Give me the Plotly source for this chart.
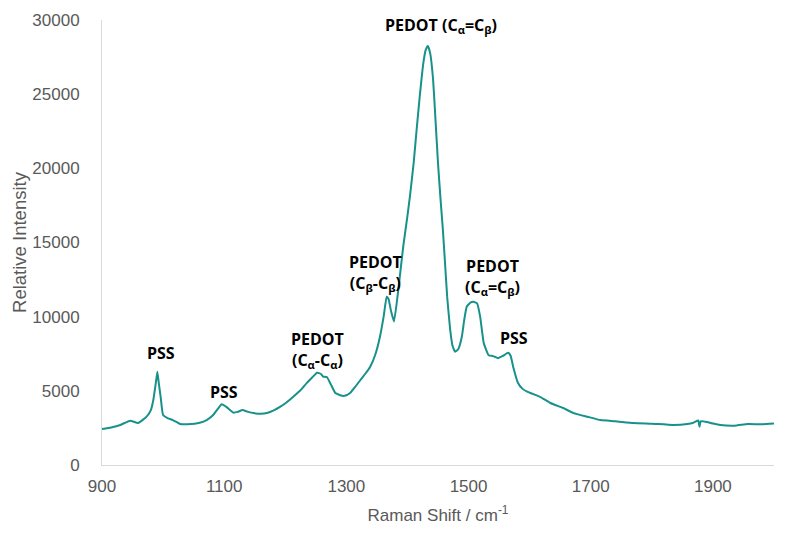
import plotly.graph_objects as go

# Raman spectrum
shift = [900, 915, 930, 946, 959, 973, 980, 984, 988, 990.6, 993, 996, 1000, 1008, 1016, 1028,
         1040, 1060, 1072, 1082, 1090, 1096, 1104, 1115, 1122, 1130, 1138, 1148, 1160, 1170, 1182,
         1192, 1203, 1213, 1224, 1235, 1244, 1252, 1258, 1262, 1268, 1275, 1282, 1290, 1295, 1300,
         1306, 1315, 1323, 1331, 1339, 1347, 1355, 1361, 1366, 1369, 1373, 1378, 1385, 1393, 1400,
         1404, 1410, 1415, 1420, 1426, 1430, 1433.5, 1437, 1442, 1446, 1450, 1454, 1458, 1462, 1465,
         1470, 1474, 1478, 1483, 1489, 1493, 1497, 1503, 1508, 1514, 1519, 1525, 1533, 1539, 1543,
         1548, 1556, 1565, 1569, 1573, 1581, 1588, 1596, 1605, 1617, 1634, 1655, 1672, 1695, 1716,
         1740, 1770, 1800, 1835, 1858, 1868, 1876, 1878, 1880, 1890, 1900, 1912, 1935, 1957, 1980,
         2000]
intensity = [2430, 2530, 2700, 2990, 2830, 3260, 3700, 4380, 5500, 6290, 5500, 4600, 3370, 3150,
             3030, 2760, 2750, 2850, 3050, 3370, 3800, 4090, 3900, 3530, 3580, 3700, 3600, 3500,
             3450, 3500, 3700, 3930, 4250, 4600, 5000, 5520, 5900, 6220, 6150, 5950, 5930, 5400,
             4850, 4700, 4650, 4700, 4850, 5300, 5730, 6150, 6630, 7400, 8650, 10000, 11350, 11200,
             10400, 9680, 11800, 14700, 16800, 18100, 20300, 22600, 24800, 27100, 28000, 28250, 27800,
             25960, 23200, 20360, 18000, 15840, 13300, 11350, 9100, 8000, 7640, 7800, 8650, 9800,
             10670, 10950, 11000, 10900, 10000, 8200, 7400, 7350, 7300, 7200, 7350, 7570, 7350, 6630,
             5530, 5150, 4940, 4800, 4600, 4180, 3840, 3500, 3250, 3030, 2950, 2830, 2780, 2700, 2760,
             2850, 3000, 2580, 2950, 2900, 2800, 2700, 2650, 2760, 2750, 2800]

# peak labels
label_x = [997, 1100, 1252, 1347, 1455, 1539, 1575]
label_y = [7550, 4900, 7750, 12950, 29660, 12670, 8560]
label_text = ["PSS", "PSS", "PEDOT<br>(C<sub>α</sub>-C<sub>α</sub>)", "PEDOT<br>(C<sub>β</sub>-C<sub>β</sub>)",
              "PEDOT (C<sub>α</sub>=C<sub>β</sub>)", "PEDOT<br>(C<sub>α</sub>=C<sub>β</sub>)", "PSS"]

fig = go.Figure()
fig.add_trace(go.Scatter(x=shift, y=intensity, mode="lines",
                         line=dict(color="#17918a", width=2, shape="spline", smoothing=0.4),
                         showlegend=False, hoverinfo="skip"))

for x, y, t in zip(label_x, label_y, label_text):
    fig.add_annotation(x=x, y=y, text=f"<b>{t}</b>", showarrow=False,
                       font=dict(family="Open Sans", size=16, color="black"))

axis_font = dict(family="Liberation Sans, Arial", size=17, color="#595959")
fig.update_layout(
    width=800, height=536, template="plotly_white",
    plot_bgcolor="white", paper_bgcolor="white",
    margin=dict(l=94, r=34, t=12, b=79),
    xaxis=dict(range=[900, 2000], tick0=900, dtick=200, showgrid=False, zeroline=False,
               showline=True, linecolor="#d9d9d9", linewidth=1, ticks="", tickfont=axis_font,
               ticklabelstandoff=6, automargin=False,
               title=dict(text="Raman Shift / cm<sup>-1</sup>", standoff=13,
                          font=dict(family="Liberation Sans, Arial", size=17, color="#595959"))),
    yaxis=dict(range=[0, 30000], dtick=5000, showgrid=False, zeroline=False, tickformat="d",
               showline=True, linecolor="#d9d9d9", linewidth=1, ticks="", tickfont=axis_font,
               ticklabelstandoff=18, automargin=False,
               title=dict(text="Relative Intensity", standoff=0,
                          font=dict(family="Liberation Sans, Arial", size=18.5, color="#595959"))),
)

fig.write_html("out.html")
